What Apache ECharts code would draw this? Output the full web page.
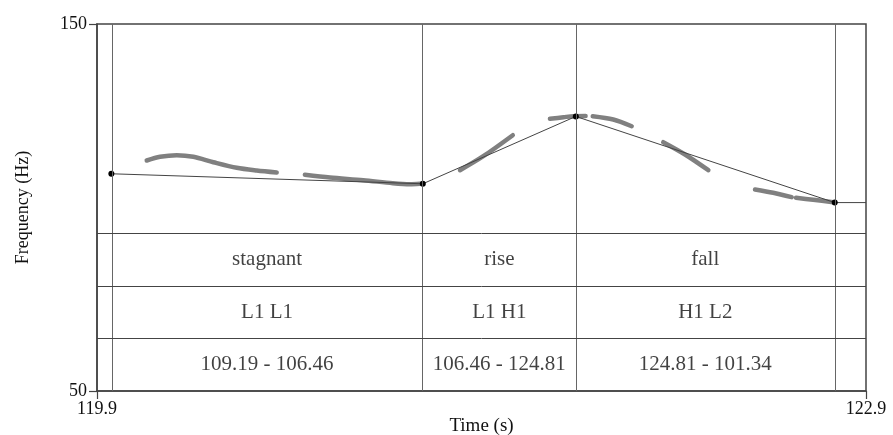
<!DOCTYPE html>
<html>
<head>
<meta charset="utf-8">
<script src="https://cdn.jsdelivr.net/npm/echarts@6/dist/echarts.min.js"></script>
<style>
html,body{margin:0;padding:0;background:#fff;}
#chart{width:893px;height:435px;}
</style>
</head>
<body>
<div id="chart"></div>
<script>
// ---- data ----
var xTicks = [119.9, 122.9];
var yTicks = [50, 150];
// pitch contour (Hz), null marks unvoiced gaps
var contourT = [120.094,120.146,120.211,120.276,120.354,120.445,120.523,120.601, null,
  120.711,120.809,120.939,121.054,121.121,121.160, null,
  121.316,121.407,121.522, null,
  121.667,121.720,121.758,121.806, null,
  121.834,121.914,121.986, null,
  122.109,122.194,122.285, null,
  122.467,122.538,122.610, null,
  122.627,122.694,122.772];
var contourF = [112.81,113.81,114.25,113.81,112.34,110.82,110.08,109.54, null,
  108.91,108.17,107.44,106.62,106.35,106.46, null,
  110.16,113.98,119.70, null,
  124.17,124.60,124.88,124.90, null,
  124.88,123.98,122.15, null,
  117.79,114.44,110.16, null,
  104.90,104.00,102.81, null,
  102.64,102.10,101.44];
// stylised targets
var targetT = [119.956, 121.171, 121.768, 122.778];
var targetF = [109.19, 106.46, 124.81, 101.34];
var endT = 122.9;
// tiers
var tierLines = [92.857, 78.571, 64.286];
var tierCentres = [85.714, 71.429, 57.143];
var movements = ["stagnant", "rise", "fall"];
var tones = ["L1 L1", "L1 H1", "H1 L2"];
var ranges = ["109.19 - 106.46", "106.46 - 124.81", "124.81 - 101.34"];

// ---- build ----
var contourData = contourT.map(function(t, i){ return t === null ? [null, null] : [t, contourF[i]]; });
var targetData = targetT.map(function(t, i){ return [t, targetF[i]]; });
targetData.push({value: [endT, targetF[targetF.length-1]], symbol: 'none'});

var textData = [];
for (var k = 0; k < movements.length; k++) {
  var c = (targetT[k] + targetT[k+1]) / 2;
  textData.push({value: [c, tierCentres[0]], label: {formatter: movements[k]}});
  textData.push({value: [c, tierCentres[1]], label: {formatter: tones[k]}});
  textData.push({value: [c, tierCentres[2]], label: {formatter: ranges[k]}});
}

var serif = '"Liberation Serif", "Times New Roman", serif';
var chart = echarts.init(document.getElementById('chart'), null, {renderer: 'canvas'});
chart.setOption({
  animation: false,
  backgroundColor: '#fff',
  grid: {left: 97, right: 27, top: 24, bottom: 44, outerBoundsMode: 'none', containLabel: false,
    show: true, borderColor: '#444', borderWidth: 1.5},
  xAxis: {
    type: 'value', min: xTicks[0], max: xTicks[1],
    name: 'Time (s)', nameLocation: 'middle', nameGap: 26, nameMoveOverlap: false,
    nameTextStyle: {fontFamily: serif, fontSize: 19, color: '#111'},
    axisLine: {show: true, lineStyle: {color: '#444', width: 1.5}},
    axisTick: {show: true, length: 8, inside: false, customValues: xTicks, lineStyle: {color: '#444', width: 1.2}},
    axisLabel: {show: true, customValues: xTicks, margin: 9, fontFamily: serif, fontSize: 18, color: '#111',
      formatter: function(v){ return v.toFixed(1); }},
    splitLine: {show: false}
  },
  yAxis: {
    type: 'value', min: yTicks[0], max: yTicks[1],
    name: 'Frequency (Hz)', nameLocation: 'middle', nameGap: 65, nameRotate: 90, nameMoveOverlap: false,
    nameTextStyle: {fontFamily: serif, fontSize: 18, color: '#111'},
    axisLine: {show: true, lineStyle: {color: '#444', width: 1.5}},
    axisTick: {show: true, length: 8, customValues: yTicks, lineStyle: {color: '#444', width: 1.2}},
    axisLabel: {show: true, customValues: yTicks, margin: 10, fontFamily: serif, fontSize: 18, color: '#111'},
    splitLine: {show: false}
  },
  series: [
    {
      type: 'line', name: 'grid', data: [], silent: true,
      markLine: {
        silent: true, symbol: 'none', animation: false,
        label: {show: false},
        data: targetT.map(function(t){ return {xAxis: t, lineStyle: {color: '#666', width: 1, type: 'solid'}}; })
          .concat(tierLines.map(function(v){ return {yAxis: v, lineStyle: {color: '#444', width: 1, type: 'solid'}}; }))
      }
    },
    {
      type: 'line', name: 'contour', data: contourData, showSymbol: false, symbol: 'none',
      connectNulls: false, smooth: 0.3,
      lineStyle: {color: '#808080', width: 4.5, cap: 'round', join: 'round'}, z: 3
    },
    {
      type: 'line', name: 'targets', data: targetData, symbol: 'circle', symbolSize: 6,
      itemStyle: {color: '#000'},
      lineStyle: {color: '#444', width: 1}, z: 4
    },
    {
      type: 'scatter', name: 'tiers', data: textData, symbolSize: 0, z: 5,
      label: {show: true, position: 'inside', fontFamily: serif, fontSize: 21, color: '#111'}
    }
  ]
});
</script>
</body>
</html>
